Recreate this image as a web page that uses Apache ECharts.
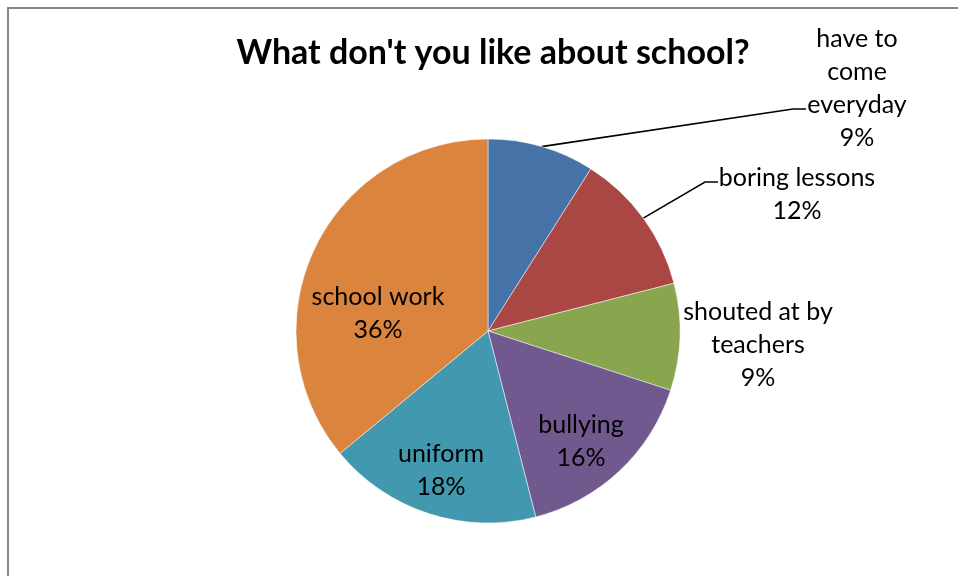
<!DOCTYPE html>
<html>
<head>
<meta charset="utf-8">
<title>What don't you like about school?</title>
<script src="https://cdn.jsdelivr.net/npm/echarts@6/dist/echarts.min.js"></script>
<style>
  html, body { margin: 0; padding: 0; background: #fff; }
  #main { width: 958px; height: 576px; }
</style>
</head>
<body>
<div id="main"></div>
<script>
// Survey answers, in clockwise order from 12 o'clock
const categories = ['have to come everyday', 'boring lessons', 'shouted at by teachers', 'bullying', 'uniform', 'school work'];
const shares = [9, 12, 9, 16, 18, 36];
// How each category name is broken onto lines in its label
const labelNames = ['have to\ncome\neveryday', 'boring lessons', 'shouted at by\nteachers', 'bullying', 'uniform', 'school work'];
const sliceColors = ['#4572A7', '#AA4643', '#89A54E', '#71588F', '#4198AF', '#DB843D'];

const pieCenter = [488, 331];
const pieRadius = 192;
const FONT = 'Lato, "Open Sans", "Liberation Sans", sans-serif';

// Where each label block sits; outside labels also get an elbowed leader
const labelSpots = [
  { x: 857, y: 88, line: [[793, 109], [806, 109]] },
  { x: 797, y: 194, line: [[705, 182], [718, 182]] },
  { x: 758, y: 345 },
  { x: 581, y: 441 },
  { x: 441, y: 470 },
  { x: 378, y: 313 }
];

const total = shares.reduce((a, b) => a + b, 0);
// Point on the rim at the middle of a slice (leader lines start there)
function rimPoint(i) {
  let before = 0;
  for (let k = 0; k < i; k++) before += shares[k];
  const ang = (before + shares[i] / 2) / total * 2 * Math.PI;
  return [pieCenter[0] + pieRadius * Math.sin(ang), pieCenter[1] - pieRadius * Math.cos(ang)];
}

const chart = echarts.init(document.getElementById('main'));
chart.setOption({
  animation: false,
  backgroundColor: '#ffffff',
  title: {
    text: "What don't you like about school?",
    left: 488,
    top: 31,
    textAlign: 'center',
    textStyle: { fontFamily: FONT, fontWeight: 'bold', fontSize: 34, color: '#000' }
  },
  graphic: [{
    type: 'rect',
    silent: true,
    shape: { x: 8, y: 8, width: 1000, height: 1000 },
    style: { fill: 'none', stroke: '#868686', lineWidth: 2 }
  }],
  series: [{
    type: 'pie',
    center: pieCenter,
    radius: pieRadius,
    startAngle: 90,
    clockwise: true,
    avoidLabelOverlap: false,
    percentPrecision: 0,
    itemStyle: { borderColor: '#ffffff', borderWidth: 0.5 },
    label: {
      show: true,
      color: '#000',
      fontFamily: FONT,
      fontSize: 25,
      lineHeight: 33,
      align: 'center',
      formatter: p => labelNames[p.dataIndex] + '\n' + p.percent + '%'
    },
    labelLine: { show: true, length: 10, length2: 10, lineStyle: { color: '#000', width: 1.6 } },
    labelLayout: params => {
      const i = params.dataIndex;
      const s = labelSpots[i];
      const out = { x: s.x, y: s.y, align: 'center', verticalAlign: 'middle' };
      if (s.line) out.labelLinePoints = [rimPoint(i), s.line[0], s.line[1]];
      return out;
    },
    data: categories.map((name, i) => ({
      name: name,
      value: shares[i],
      itemStyle: { color: sliceColors[i] },
      labelLine: { show: !!labelSpots[i].line }
    }))
  }]
});
</script>
</body>
</html>
